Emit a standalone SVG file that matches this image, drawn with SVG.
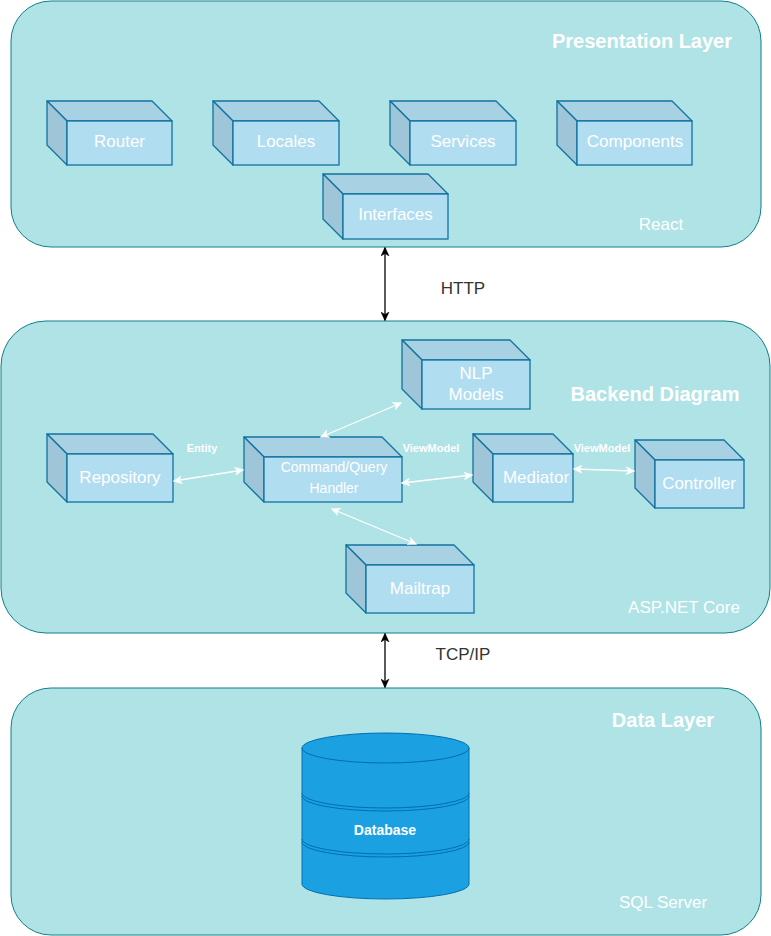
<svg xmlns="http://www.w3.org/2000/svg" width="771" height="936" viewBox="0 0 771 936">
<style>
text{font-family:"Liberation Sans",Arial,Helvetica,sans-serif}
.layer{fill:#b0e3e6;stroke:#0e8088;stroke-width:1}
.front{fill:#b1ddf0;stroke:#10739e;stroke-width:1.3}
.top{fill:#a8d2e4;stroke:#10739e;stroke-width:1.3;stroke-linejoin:round}
.side{fill:#9fc6d8;stroke:#10739e;stroke-width:1.3;stroke-linejoin:round}
.lbl{fill:#ffffff;font-size:17px;text-anchor:middle}
.title{fill:#ffffff;font-size:20px;font-weight:bold;text-anchor:middle}
.tech{fill:#ffffff;font-size:17px;text-anchor:middle}
.elbl{fill:#ffffff;font-size:11px;font-weight:bold;text-anchor:middle}
.wline{stroke:#ffffff;stroke-width:1.3;fill:none;marker-start:url(#wa);marker-end:url(#wa)}
.bline{stroke:#000000;stroke-width:1.3;fill:none;marker-start:url(#ba);marker-end:url(#ba)}
.proto{fill:#333333;font-size:17px;text-anchor:middle}
.db{fill:#1ba1e2;stroke:#006eaf;stroke-width:1}
</style>
<defs>
<marker id="wa" viewBox="0 0 10 10" refX="9" refY="5" markerWidth="9" markerHeight="9" markerUnits="userSpaceOnUse" orient="auto-start-reverse">
<path d="M0,0.5 L10,5 L0,9.5 L3,5 Z" fill="#ffffff" stroke="#ffffff" stroke-width="0.5"/>
</marker>
<marker id="ba" viewBox="0 0 10 10" refX="9" refY="5" markerWidth="9" markerHeight="9" markerUnits="userSpaceOnUse" orient="auto-start-reverse">
<path d="M0,0.5 L10,5 L0,9.5 L3,5 Z" fill="#000000" stroke="#000000" stroke-width="0.5"/>
</marker>
</defs>

<g id="presentation-layer">
<rect class="layer" x="11" y="1" width="750" height="246" rx="40" ry="40"/>
<text class="title" x="642" y="48">Presentation Layer</text>
<text class="tech" x="661" y="230">React</text>
</g>
<g id="backend-layer">
<rect class="layer" x="1" y="321" width="769" height="312" rx="45" ry="45"/>
<text class="title" x="655" y="401">Backend Diagram</text>
<text class="tech" x="684" y="613">ASP.NET Core</text>
</g>
<g id="data-layer">
<rect class="layer" x="11" y="688" width="750" height="247" rx="40" ry="40"/>
<text class="title" x="663" y="727">Data Layer</text>
<text class="tech" x="663" y="908">SQL Server</text>
</g>

<g id="router">
<polygon class="top" points="47,101 152,101 172,121 67,121"/>
<polygon class="side" points="47,101 67,121 67,165 47,145"/>
<rect class="front" x="67" y="121" width="105" height="44"/>
<text class="lbl" x="119.5" y="147">Router</text>
</g>
<g id="locales">
<polygon class="top" points="213,101 319,101 339,121 233,121"/>
<polygon class="side" points="213,101 233,121 233,165 213,145"/>
<rect class="front" x="233" y="121" width="106" height="44"/>
<text class="lbl" x="286" y="147">Locales</text>
</g>
<g id="services">
<polygon class="top" points="390,101 496,101 516,121 410,121"/>
<polygon class="side" points="390,101 410,121 410,165 390,145"/>
<rect class="front" x="410" y="121" width="106" height="44"/>
<text class="lbl" x="463" y="147">Services</text>
</g>
<g id="components">
<polygon class="top" points="557,101 672,101 692,121 577,121"/>
<polygon class="side" points="557,101 577,121 577,165 557,145"/>
<rect class="front" x="577" y="121" width="115" height="44"/>
<text class="lbl" x="635" y="147">Components</text>
</g>
<g id="interfaces">
<polygon class="top" points="323,174 428,174 448,194 343,194"/>
<polygon class="side" points="323,174 343,194 343,239 323,219"/>
<rect class="front" x="343" y="194" width="105" height="45"/>
<text class="lbl" x="395.5" y="220">Interfaces</text>
</g>

<g id="nlp-models">
<polygon class="top" points="402,340 510,340 530,360 422,360"/>
<polygon class="side" points="402,340 422,360 422,409 402,389"/>
<rect class="front" x="422" y="360" width="108" height="49"/>
<text class="lbl" x="476" y="379">NLP</text>
<text class="lbl" x="476" y="400">Models</text>
</g>
<g id="repository">
<polygon class="top" points="47,434 153,434 173,454 67,454"/>
<polygon class="side" points="47,434 67,454 67,502 47,482"/>
<rect class="front" x="67" y="454" width="106" height="48"/>
<text class="lbl" x="120" y="483">Repository</text>
</g>
<g id="command-query-handler">
<polygon class="top" points="244,437 382,437 402,457 264,457"/>
<polygon class="side" points="244,437 264,457 264,502 244,482"/>
<rect class="front" x="264" y="457" width="138" height="45"/>
<text class="lbl" x="334" y="472" style="font-size:14px">Command/Query</text>
<text class="lbl" x="334" y="493" style="font-size:14px">Handler</text>
</g>
<g id="mediator">
<polygon class="top" points="473,434 553,434 573,454 493,454"/>
<polygon class="side" points="473,434 493,454 493,502 473,482"/>
<rect class="front" x="493" y="454" width="80" height="48"/>
<text class="lbl" x="536" y="483">Mediator</text>
</g>
<g id="controller">
<polygon class="top" points="635,440 724,440 744,460 655,460"/>
<polygon class="side" points="635,440 655,460 655,508 635,488"/>
<rect class="front" x="655" y="460" width="89" height="48"/>
<text class="lbl" x="699" y="489">Controller</text>
</g>
<g id="mailtrap">
<polygon class="top" points="346,545 454,545 474,565 366,565"/>
<polygon class="side" points="346,545 366,565 366,613 346,593"/>
<rect class="front" x="366" y="565" width="108" height="48"/>
<text class="lbl" x="420" y="594">Mailtrap</text>
</g>

<g id="database">
<path class="db" d="M302,748 A83.5,15 0 0 1 469,748 L469,884 A83.5,15 0 0 1 302,884 Z"/>
<path d="M302,748 A83.5,15 0 0 0 469,748" fill="none" stroke="#006eaf" stroke-width="1"/>
<path d="M302,793 A83.5,15 0 0 0 469,793 M302,796 A83.5,15 0 0 0 469,796" fill="none" stroke="#006eaf" stroke-width="1"/>
<path d="M302,839 A83.5,15 0 0 0 469,839 M302,842 A83.5,15 0 0 0 469,842" fill="none" stroke="#006eaf" stroke-width="1"/>
<text x="385" y="835" style="fill:#ffffff;font-size:14px;font-weight:bold;text-anchor:middle">Database</text>
</g>

<g id="connectors">
<line class="bline" x1="385" y1="248" x2="385" y2="320"/>
<text class="proto" x="463" y="294">HTTP</text>
<line class="bline" x1="385" y1="634" x2="385" y2="687"/>
<text class="proto" x="463" y="660">TCP/IP</text>
<line class="wline" x1="174" y1="481" x2="243" y2="470"/>
<text class="elbl" x="202" y="452">Entity</text>
<line class="wline" x1="321" y1="437" x2="401" y2="403"/>
<line class="wline" x1="402" y1="483" x2="472" y2="475"/>
<text class="elbl" x="431" y="452">ViewModel</text>
<line class="wline" x1="332" y1="509" x2="416" y2="544"/>
<line class="wline" x1="574" y1="469" x2="634" y2="471"/>
<text class="elbl" x="602" y="452">ViewModel</text>
</g>
</svg>
